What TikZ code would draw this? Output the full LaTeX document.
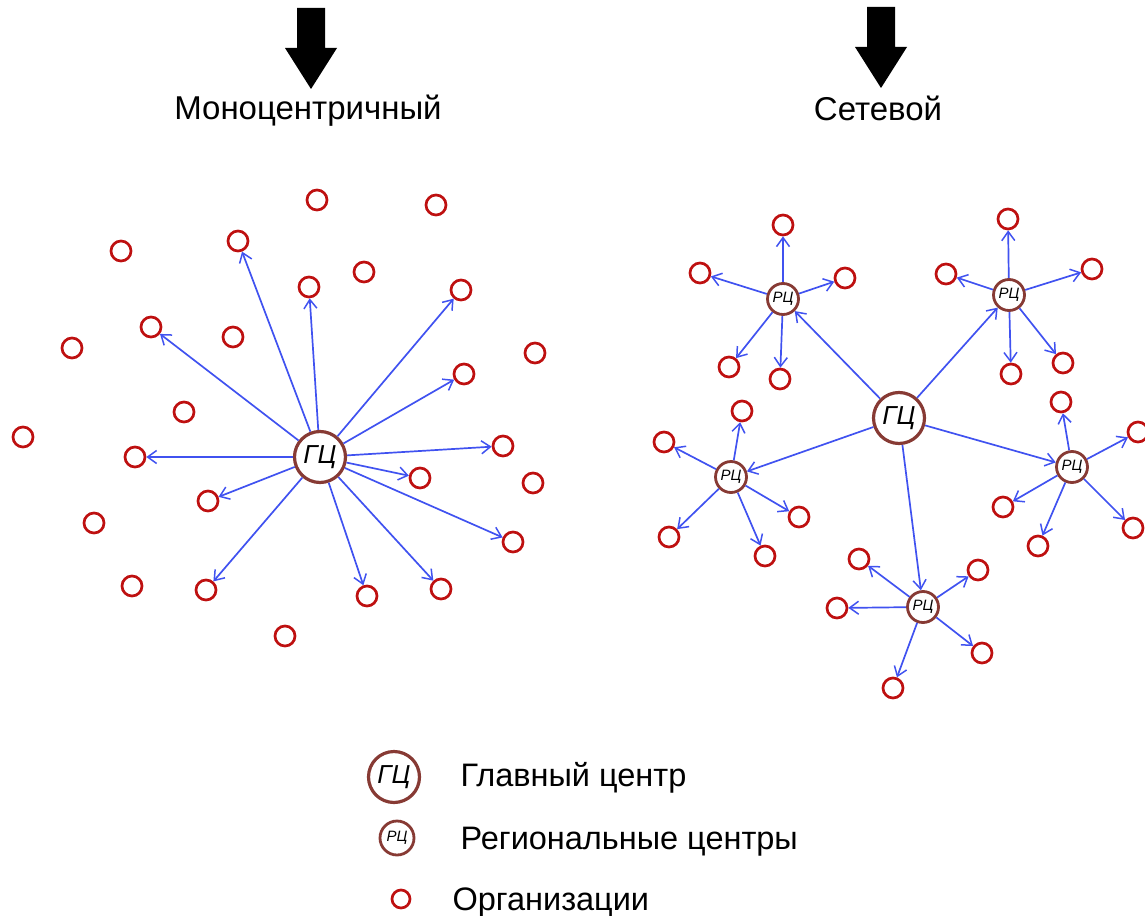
\documentclass[tikz,border=0pt]{standalone}
\usepackage{fontspec}
\setmainfont{Liberation Sans}
\usetikzlibrary{arrows.meta}
\definecolor{orgred}{RGB}{190,16,16}
\definecolor{ringbrown}{RGB}{135,58,52}
\definecolor{arrblue}{RGB}{64,82,240}
\tikzset{
  org/.style={circle,draw=orgred,line width=2.7pt,fill=white,minimum size=20pt,inner sep=0pt},
  gcnode/.style={circle,draw=ringbrown,line width=3.2pt,fill=white,minimum size=51pt,inner sep=0pt,font=\fontsize{26pt}{26pt}\selectfont\itshape},
  rcnode/.style={circle,draw=ringbrown,line width=2.8pt,fill=white,minimum size=31pt,inner sep=0pt,font=\fontsize{15pt}{15pt}\selectfont\itshape},
  arr/.style={draw=arrblue,line width=1.7pt,-{Straight Barb[length=9pt,width=13pt,line width=1.5pt]}},
  blockarrow/.style={fill=black,draw=none},
  title/.style={font=\fontsize{33pt}{33pt}\selectfont,anchor=base},
  legtext/.style={font=\fontsize{32.5pt}{32.5pt}\selectfont,anchor=base west}
}
\begin{document}
\begin{tikzpicture}[x=1pt,y=-1pt]
\useasboundingbox (0,0) rectangle (1145,915);
% block arrows
\path[blockarrow] (297,8) -- (325,8) -- (325,48) -- (337,48) -- (311,89) -- (285,48) -- (297,48) -- cycle;
\path[blockarrow] (867,7) -- (895,7) -- (895,47) -- (907,47) -- (881,88) -- (855,47) -- (867,47) -- cycle;
\node[title] (t1) at (308,120) {Моноцентричный};
\node[title] (t2) at (878,121) {Сетевой};

% ---- left: monocentric
\node[gcnode] (g) at (320,457) {ГЦ};
\node[org] (l1) at (317,200) {};
\node[org] (l2) at (436,205) {};
\node[org] (l3) at (121,251) {};
\node[org] (l4) at (238,241) {};
\node[org] (l5) at (364,272) {};
\node[org] (l6) at (309,287) {};
\node[org] (l7) at (461,290) {};
\node[org] (l8) at (151,327) {};
\node[org] (l9) at (233,337) {};
\node[org] (l10) at (72,348) {};
\node[org] (l11) at (535,353) {};
\node[org] (l12) at (464,374) {};
\node[org] (l13) at (184,412) {};
\node[org] (l14) at (23,437) {};
\node[org] (l15) at (135,457) {};
\node[org] (l16) at (503,446) {};
\node[org] (l17) at (420,478) {};
\node[org] (l18) at (533,483) {};
\node[org] (l19) at (208,501) {};
\node[org] (l20) at (94,523) {};
\node[org] (l21) at (513,542) {};
\node[org] (l22) at (132,586) {};
\node[org] (l23) at (206,590) {};
\node[org] (l24) at (367,596) {};
\node[org] (l25) at (441,589) {};
\node[org] (l26) at (285,636) {};
\foreach \n in {l4,l6,l7,l8,l12,l15,l16,l17,l19,l21,l23,l24,l25}
  \draw[arr] (g) -- (\n);

% ---- right: network
\node[gcnode] (G) at (899,418) {ГЦ};
\node[rcnode] (A) at (783,299) {РЦ};
\node[rcnode] (B) at (1009,295) {РЦ};
\node[rcnode] (C) at (731,477) {РЦ};
\node[rcnode] (D) at (1072,467) {РЦ};
\node[rcnode] (E) at (923,607) {РЦ};
\foreach \n in {A,B,C,D,E} \draw[arr] (G) -- (\n);

\node[org] (a1) at (783,225) {};
\node[org] (a2) at (700,273) {};
\node[org] (a3) at (845,278) {};
\node[org] (a4) at (729,367) {};
\node[org] (a5) at (780,379) {};
\node[org] (b1) at (1008,219) {};
\node[org] (b2) at (946,274) {};
\node[org] (b3) at (1092,269) {};
\node[org] (b4) at (1011,374) {};
\node[org] (b5) at (1063,363) {};
\node[org] (c1) at (742,411) {};
\node[org] (c2) at (664,442) {};
\node[org] (c3) at (669,537) {};
\node[org] (c4) at (765,556) {};
\node[org] (c5) at (799,517) {};
\node[org] (d1) at (1061,402) {};
\node[org] (d2) at (1138,432) {};
\node[org] (d3) at (1003,507) {};
\node[org] (d4) at (1038,546) {};
\node[org] (d5) at (1133,528) {};
\node[org] (e1) at (859,559) {};
\node[org] (e2) at (978,570) {};
\node[org] (e3) at (837,608) {};
\node[org] (e4) at (982,653) {};
\node[org] (e5) at (893,688) {};
\foreach \n in {a1,a2,a3,a4,a5} \draw[arr] (A) -- (\n);
\foreach \n in {b1,b2,b3,b4,b5} \draw[arr] (B) -- (\n);
\foreach \n in {c1,c2,c3,c4,c5} \draw[arr] (C) -- (\n);
\foreach \n in {d1,d2,d3,d4,d5} \draw[arr] (D) -- (\n);
\foreach \n in {e1,e2,e3,e4,e5} \draw[arr] (E) -- (\n);

% ---- legend
\node[gcnode] (lg) at (394,777) {ГЦ};
\node[rcnode,minimum size=34pt] (lr) at (397,838) {РЦ};
\node[org,minimum size=18pt] (lo) at (401,899) {};
\node[legtext] (lt1) at (457,786) {Главный центр};
\node[legtext] (lt2) at (457,849) {Региональные центры};
\node[legtext] (lt3) at (449,910) {Организации};
\end{tikzpicture}
\end{document}
